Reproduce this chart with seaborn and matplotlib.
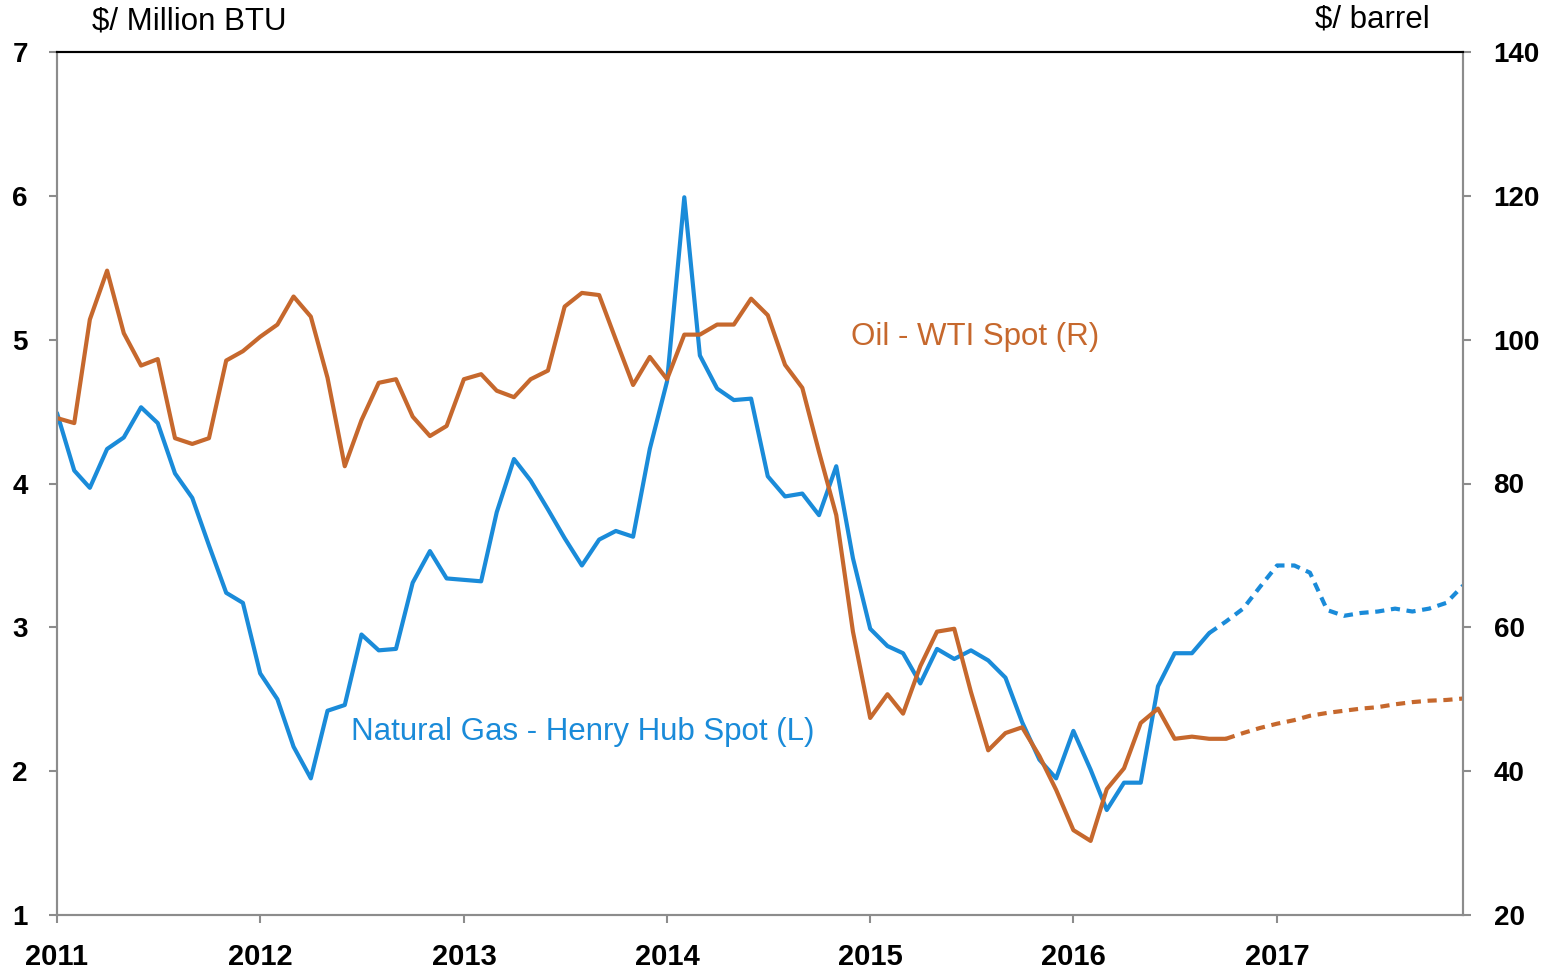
import numpy as np
import pandas as pd
import matplotlib
matplotlib.use("Agg")
import matplotlib.pyplot as plt
import seaborn as sns

# ---- data (monthly, Jan 2011 - Dec 2017) ----
months = pd.date_range("2011-01-01", "2017-12-01", freq="MS")

gas = [4.49, 4.09, 3.97, 4.24, 4.32, 4.53, 4.42, 4.07, 3.90, 3.57, 3.24, 3.17,
       2.68, 2.50, 2.17, 1.95, 2.42, 2.46, 2.95, 2.84, 2.85, 3.31, 3.53, 3.34,
       3.33, 3.32, 3.80, 4.17, 4.02, 3.82, 3.62, 3.43, 3.61, 3.67, 3.63, 4.24,
       4.71, 5.99, 4.89, 4.66, 4.58, 4.59, 4.05, 3.91, 3.93, 3.78, 4.12, 3.48,
       2.99, 2.87, 2.82, 2.61, 2.85, 2.78, 2.84, 2.77, 2.65, 2.34, 2.08, 1.95,
       2.28, 2.01, 1.73, 1.92, 1.92, 2.59, 2.82, 2.82, 2.96, 3.04, 3.13, 3.28,
       3.43, 3.43, 3.38, 3.12, 3.08, 3.10, 3.11, 3.13, 3.11, 3.13, 3.17, 3.29]

oil = [89.1, 88.4, 102.8, 109.6, 100.9, 96.4, 97.3, 86.3, 85.5, 86.3, 97.1, 98.4,
       100.4, 102.1, 106.0, 103.2, 94.7, 82.4, 88.8, 94.0, 94.5, 89.3, 86.6, 88.0,
       94.5, 95.2, 92.9, 92.0, 94.5, 95.7, 104.6, 106.5, 106.2, 100.0, 93.7, 97.6,
       94.5, 100.7, 100.7, 102.1, 102.1, 105.7, 103.4, 96.5, 93.3, 84.4, 75.6, 59.4,
       47.4, 50.7, 48.0, 54.6, 59.4, 59.8, 51.0, 42.9, 45.3, 46.1, 42.1, 37.4,
       31.8, 30.3, 37.5, 40.4, 46.7, 48.7, 44.5, 44.8, 44.5, 44.5, 45.3, 46.0,
       46.6, 47.1, 47.7, 48.1, 48.4, 48.7, 48.9, 49.3, 49.6, 49.8, 49.9, 50.1]

gas_last_actual = 68   # index of last historical gas point (Sep 2016)
oil_last_actual = 69   # index of last historical oil point (Oct 2016)

year_ticks = pd.date_range("2011-01-01", "2017-01-01", freq="YS")
year_labels = ["2011", "2012", "2013", "2014", "2015", "2016", "2017"]
left_ticks = [1, 2, 3, 4, 5, 6, 7]
right_ticks = [20, 40, 60, 80, 100, 120, 140]

# ---- styling ----
sns.set_theme(style="white")
plt.rcParams["font.family"] = ["Liberation Sans", "DejaVu Sans"]

BLUE = "#1A8BD9"
ORANGE = "#C6682D"
GRAY = "#8C8C8C"

fig = plt.figure(figsize=(15.52, 9.68), dpi=100)
ax = fig.add_axes([57 / 1552, 53 / 968, (1463 - 57) / 1552, (915 - 52) / 968])
ax2 = ax.twinx()

df = pd.DataFrame({"date": months, "gas": gas, "oil": oil})
g_hist = df.iloc[: gas_last_actual + 1]
g_fc = df.iloc[gas_last_actual:]
o_hist = df.iloc[: oil_last_actual + 1]
o_fc = df.iloc[oil_last_actual:]

sns.lineplot(data=g_hist, x="date", y="gas", ax=ax, color=BLUE, linewidth=3)
sns.lineplot(data=g_fc, x="date", y="gas", ax=ax, color=BLUE, linewidth=3)
ax.lines[-1].set_dashes([2.2, 1.6])
sns.lineplot(data=o_hist, x="date", y="oil", ax=ax2, color=ORANGE, linewidth=3)
sns.lineplot(data=o_fc, x="date", y="oil", ax=ax2, color=ORANGE, linewidth=3)
ax2.lines[-1].set_dashes([2.2, 1.6])

ax.set_xlim(months[0], months[-1])
ax.set_ylim(1, 7)
ax2.set_ylim(20, 140)
ax.set_yticks(left_ticks)
ax2.set_yticks(right_ticks)
ax.set_xticks(year_ticks)
ax.set_xticklabels(year_labels)
ax.set_xlabel("")
ax.set_ylabel("")
ax2.set_ylabel("")

for lab in ax.get_xticklabels():
    lab.set_fontsize(21)
    lab.set_fontweight("bold")
    lab.set_color("black")
for lab in ax.get_yticklabels() + ax2.get_yticklabels():
    lab.set_fontsize(20)
    lab.set_fontweight("bold")
    lab.set_color("black")

for a in (ax, ax2):
    for side in ("left", "right", "bottom"):
        a.spines[side].set_color(GRAY)
        a.spines[side].set_linewidth(1.5)
    a.spines["top"].set_color("black")
    a.spines["top"].set_linewidth(1.5)
    a.grid(False)

ax.tick_params(axis="x", direction="out", length=6, width=1.5, color=GRAY, pad=14, bottom=True)
ax.tick_params(axis="y", direction="out", length=6, width=1.5, color=GRAY, pad=15, left=True)
ax2.tick_params(axis="y", direction="out", length=6, width=1.5, color=GRAY, pad=16, right=True)

# axis unit titles
fig.text(92 / 1552, 1 - 22 / 968, r"\$/ Million BTU", fontsize=22.5, color="black",
         ha="left", va="center")
fig.text(1430 / 1552, 1 - 20 / 968, r"\$/ barrel", fontsize=22.5, color="black",
         ha="right", va="center")

# series labels
ax2.text(pd.Timestamp("2014-11-27"), 99.3, "Oil - WTI Spot (R)", fontsize=22.5,
         color=ORANGE, ha="left", va="baseline")
ax.text(pd.Timestamp("2012-06-13"), 2.217, "Natural Gas - Henry Hub Spot (L)",
        fontsize=22.5, color=BLUE, ha="left", va="baseline")

fig.savefig("out.png", dpi=100, facecolor="white")
